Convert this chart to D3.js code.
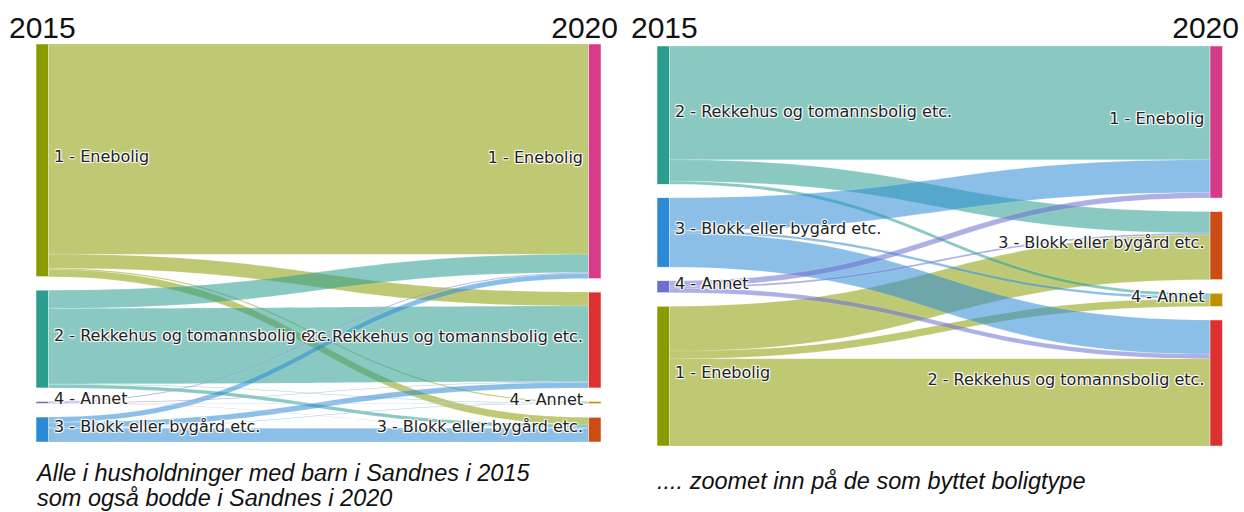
<!DOCTYPE html>
<html>
<head>
<meta charset="utf-8">
<script src="https://cdn.jsdelivr.net/npm/d3@7"></script>
<style>
  body { margin: 0; background: #fff; }
  .node-label {
    font-family: "DejaVu Sans", Verdana, sans-serif;
    font-size: 16px;
    fill: #222;
    text-shadow: 1px 1px 1px #fff, -1px -1px 1px #fff, 1px -1px 1px #fff, -1px 1px 1px #fff;
  }
  .year { font-family: "Liberation Sans", Arial, sans-serif; font-size: 30px; fill: #111; }
  .caption { font-family: "Liberation Sans", Arial, sans-serif; font-size: 23.5px; font-style: italic; fill: #111; }
</style>
</head>
<body>
<div id="main"></div>
<script>
// housing type categories (same list for 2015 and 2020)
var categories = ["1 - Enebolig", "2 - Rekkehus og tomannsbolig etc.", "3 - Blokk eller bygård etc.", "4 - Annet"];
var years = ["2015", "2020"];

// persons by housing type in 2015 -> housing type in 2020
// order of each array: to Enebolig, Rekkehus, Blokk, Annet
var fromEnebolig = [12840, 855, 440, 75];
var fromRekkehus = [1115, 4620, 210, 30];
var fromBlokk    = [320, 335, 845, 25];
var fromAnnet    = [55, 45, 18, 10];
var flows = [fromEnebolig, fromRekkehus, fromBlokk, fromAnnet];

var colors2015 = ["#8a9b00", "#2a9d8f", "#2b8ad6", "#6b6fcf"];
var colors2020 = ["#d63a88", "#dd3131", "#cc4d14", "#bf9000"];

var captionLeft = ["Alle i husholdninger med barn i Sandnes i 2015", "som også bodde i Sandnes i 2020"];
var captionRight = [".... zoomet inn på de som byttet boligtype"];

var W = 1244, H = 512;
var svg = d3.select("#main").append("svg")
    .attr("width", W)
    .attr("height", H);

var nodeW = 12.5, pad = 13.5;

function drawSankey(opts) {
  var g = svg.append("g");

  // collect links
  var links = [];
  flows.forEach(function(row, i) {
    row.forEach(function(v, j) {
      if (!opts.keepSame && i == j) return;
      links.push({source: i, target: j, value: v});
    });
  });

  var srcVal = [0, 0, 0, 0], tgtVal = [0, 0, 0, 0];
  links.forEach(function(l) { srcVal[l.source] += l.value; tgtVal[l.target] += l.value; });
  var total = d3.sum(srcVal);

  var ky = d3.scaleLinear()
      .domain([0, total])
      .range([0, (opts.y1 - opts.y0) - pad * 3]);
  var x = d3.scaleLinear()
      .domain([0, 1])
      .range([opts.x0, opts.x1 - nodeW]);

  // place nodes in each column
  function place(order, vals, col) {
    var nodes = [], y = opts.y0;
    order.forEach(function(k, pos) {
      var h = ky(vals[k]);
      nodes[k] = {idx: k, pos: pos, x0: x(col), x1: x(col) + nodeW, y0: y, y1: y + h};
      y += h + pad;
    });
    return nodes;
  }
  var src = place(opts.srcOrder, srcVal, 0);
  var tgt = place(opts.tgtOrder, tgtVal, 1);

  // stack links inside nodes
  src.forEach(function(n) {
    var y = n.y0;
    links.filter(function(l) { return l.source == n.idx; })
      .sort(function(a, b) { return tgt[a.target].pos - tgt[b.target].pos; })
      .forEach(function(l) { l.sy0 = y; y += ky(l.value); l.sy1 = y; });
  });
  tgt.forEach(function(n) {
    var y = n.y0;
    links.filter(function(l) { return l.target == n.idx; })
      .sort(function(a, b) { return src[a.source].pos - src[b.source].pos; })
      .forEach(function(l) { l.ty0 = y; y += ky(l.value); l.ty1 = y; });
  });

  var lx0 = x(0) + nodeW, lx1 = x(1);
  var xi = d3.interpolateNumber(lx0, lx1), xm = xi(0.5);

  g.append("g").selectAll("path")
    .data(links)
    .enter().append("path")
      .attr("d", function(l) {
        return "M" + lx0 + "," + l.sy0 +
          "C" + xm + "," + l.sy0 + " " + xm + "," + l.ty0 + " " + lx1 + "," + l.ty0 +
          "L" + lx1 + "," + l.ty1 +
          "C" + xm + "," + l.ty1 + " " + xm + "," + l.sy1 + " " + lx0 + "," + l.sy1 + "Z";
      })
      .attr("fill", function(l) { return colors2015[l.source]; })
      .attr("fill-opacity", 0.55)
      .attr("stroke", "#fff")
      .attr("stroke-opacity", 0.3)
      .attr("stroke-width", 0.5);

  // nodes
  var nodeG = g.append("g");
  nodeG.selectAll("rect.src")
    .data(src)
    .enter().append("rect")
      .attr("x", function(d) { return d.x0; })
      .attr("y", function(d) { return d.y0; })
      .attr("width", nodeW)
      .attr("height", function(d) { return Math.max(d.y1 - d.y0, 0.5); })
      .attr("fill", function(d) { return colors2015[d.idx]; })
      .attr("stroke", "#fff")
      .attr("stroke-width", 0.5);
  nodeG.selectAll("rect.tgt")
    .data(tgt)
    .enter().append("rect")
      .attr("x", function(d) { return d.x0; })
      .attr("y", function(d) { return d.y0; })
      .attr("width", nodeW)
      .attr("height", function(d) { return Math.max(d.y1 - d.y0, 0.5); })
      .attr("fill", function(d) { return colors2020[d.idx]; })
      .attr("stroke", "#fff")
      .attr("stroke-width", 0.5);

  // labels
  g.append("g").selectAll("text.src")
    .data(src)
    .enter().append("text")
      .attr("class", "node-label")
      .attr("x", function(d) { return d.x1 + 5.5; })
      .attr("y", function(d) { return (d.y0 + d.y1) / 2 + 2; })
      .text(function(d) { return categories[d.idx]; });
  g.append("g").selectAll("text.tgt")
    .data(tgt)
    .enter().append("text")
      .attr("class", "node-label")
      .attr("text-anchor", "end")
      .attr("x", function(d) { return d.x0 - 5.5; })
      .attr("y", function(d) { return (d.y0 + d.y1) / 2 + 2; })
      .text(function(d) { return categories[d.idx]; });

  // year headings
  g.append("text").attr("class", "year")
    .attr("x", opts.yearLeftX).attr("y", 38)
    .text(years[0]);
  g.append("text").attr("class", "year")
    .attr("text-anchor", "end")
    .attr("x", opts.yearRightX).attr("y", 38)
    .text(years[1]);

  // caption
  g.append("g").selectAll("text")
    .data(opts.caption)
    .enter().append("text")
      .attr("class", "caption")
      .attr("x", opts.capX)
      .attr("y", function(d, i) { return opts.capY + i * 25; })
      .text(function(d) { return d; });
}

// left: everyone, right: only those who changed housing type
drawSankey({
  x0: 36, x1: 601, y0: 44, y1: 442,
  keepSame: true,
  srcOrder: [0, 1, 3, 2], tgtOrder: [0, 1, 3, 2],
  yearLeftX: 9, yearRightX: 618,
  caption: captionLeft, capX: 37, capY: 481
});
drawSankey({
  x0: 657, x1: 1222.5, y0: 46, y1: 446,
  keepSame: false,
  srcOrder: [1, 2, 3, 0], tgtOrder: [0, 2, 3, 1],
  yearLeftX: 631, yearRightX: 1239,
  caption: captionRight, capX: 657, capY: 489
});
</script>
</body>
</html>
